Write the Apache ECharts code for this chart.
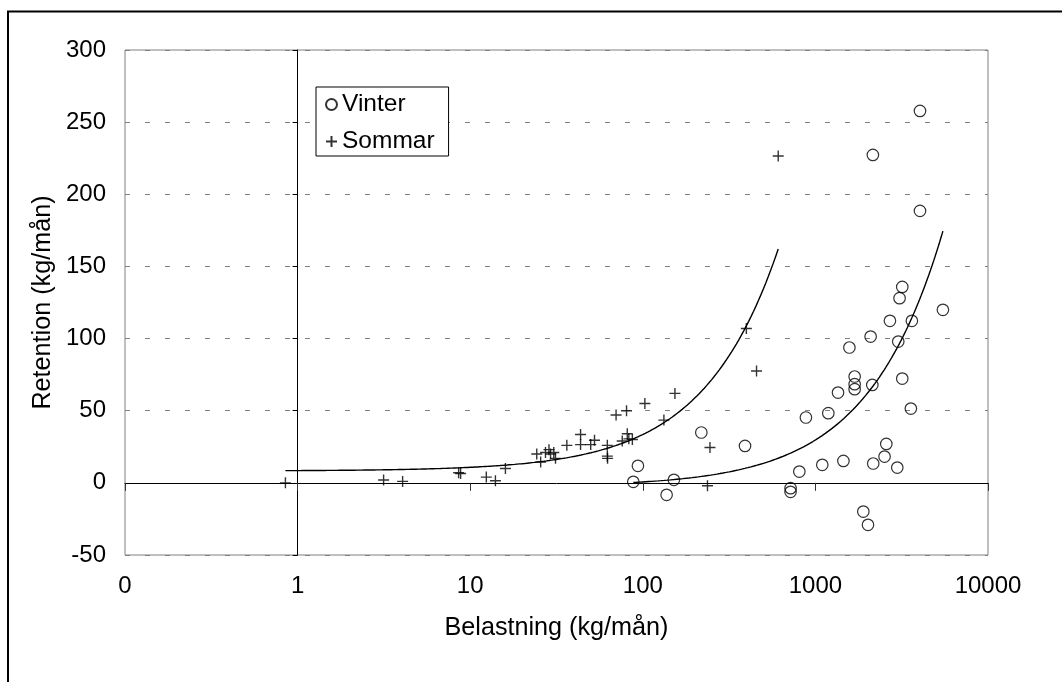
<!DOCTYPE html>
<html>
<head>
<meta charset="utf-8">
<script src="https://cdn.jsdelivr.net/npm/echarts@6/dist/echarts.min.js"></script>
<style>
html,body{margin:0;padding:0;background:#fff;}
#c{width:1062px;height:682px;}
</style>
</head>
<body>
<div id="c"></div>
<script>
// ---- data ----
const xTickLabels = ['0', '1', '10', '100', '1000', '10000'];
const xMin = 0.1, xMax = 10000;
const yMin = -50, yMax = 300, yStep = 50;

const vinterX = [88.1, 93.7, 137.4, 151.4, 218.3, 391, 718, 718, 807, 881, 1096, 1188, 1352, 1453, 1574,
  1688, 1688, 1688, 1895, 2017, 2089, 2136, 2163, 2516, 2575, 2703, 2981, 3020, 3073, 3186, 3186,
  3573, 3622, 5480, 4036, 4036, 2153];
const vinterY = [0.7, 11.8, -8.3, 2.1, 34.9, 25.6, -3.7, -6.2, 7.8, 45.3, 12.5, 48.3, 62.6, 15.2, 93.8,
  73.7, 68.4, 64.9, -19.9, -29.1, 101.4, 67.9, 13.4, 18.2, 27.0, 112.3, 10.6, 97.9, 128, 135.8, 72.3,
  51.5, 112.3, 119.9, 257.8, 188.5, 227.3];

const sommarX = [0.85, 3.15, 4.06, 8.57, 8.8, 12.4, 14.0, 16.0, 24.3, 25.6, 27.3, 28.6, 29.2, 30.5, 31.2,
  36.3, 43.6, 43.6, 49.9, 52.5, 62.3, 62.3, 62.5, 70, 80.5, 76, 81.3, 83, 87, 102.8, 132.5, 153.5,
  245, 237, 398, 456, 609];
const sommarY = [0, 2, 1, 7, 6.5, 4, 1.5, 10, 20, 14.5, 21, 23, 20, 21, 17,
  26, 33.5, 26.5, 26.5, 29.5, 26, 18.5, 17, 47, 50, 29, 34, 30.5, 30, 55, 43.5, 62,
  24.5, -2, 107, 77.5, 226.5];

// ---- layout constants ----
const G = {left: 125, top: 50, width: 863, height: 505};
const FONT = 'Liberation Sans, Arial, sans-serif';

// least-squares linear trend (as in the original spreadsheet chart)
function linFit(xs, ys) {
  const n = xs.length;
  let sx = 0, sy = 0, sxx = 0, sxy = 0;
  for (let i = 0; i < n; i++) { sx += xs[i]; sy += ys[i]; sxx += xs[i] * xs[i]; sxy += xs[i] * ys[i]; }
  const b = (n * sxy - sx * sy) / (n * sxx - sx * sx);
  const a = (sy - b * sx) / n;
  return {a, b};
}
function trendLine(xs, ys) {
  const f = linFit(xs, ys);
  const lo = Math.min(...xs), hi = Math.max(...xs);
  const pts = [];
  const N = 200;
  for (let i = 0; i <= N; i++) {
    const x = Math.pow(10, Math.log10(lo) + (Math.log10(hi) - Math.log10(lo)) * i / N);
    pts.push([x, f.a + f.b * x]);
  }
  return pts;
}
const zip = (xs, ys) => xs.map((x, i) => [x, ys[i]]);

const chart = echarts.init(document.getElementById('c'), null, {renderer: 'canvas'});

const xCrossOffset = -(G.height * (0 - yMin) / (yMax - yMin));                    // y = 0
const yCrossOffset = -(G.width * (Math.log10(1) - Math.log10(xMin)) / (Math.log10(xMax) - Math.log10(xMin))); // x = 1

chart.setOption({
  animation: false,
  backgroundColor: '#fff',
  textStyle: {fontFamily: FONT, color: '#000'},
  graphic: [{
    type: 'rect', silent: true, z: 100,
    shape: {x: 8, y: 11.5, width: 1200, height: 800},
    style: {fill: 'none', stroke: '#000', lineWidth: 2}
  }],
  grid: {left: G.left, top: G.top, width: G.width, height: G.height,
    show: true, borderColor: '#808080', borderWidth: 1, backgroundColor: '#fff'},
  legend: {
    data: ['Vinter', 'Sommar'],
    orient: 'vertical', left: 316, top: 87,
    backgroundColor: '#fff', borderColor: '#000', borderWidth: 1,
    padding: [5, 14, 2, 9],
    itemWidth: 11, itemHeight: 11, itemGap: 12, itemTextGap: 6,
    textStyle: {fontFamily: FONT, fontSize: 24.5, color: '#000'}
  },
  xAxis: [{
    type: 'log', logBase: 10, min: xMin, max: xMax,
    position: 'bottom',
    name: 'Belastning (kg/mån)', nameLocation: 'middle', nameGap: 61,
    nameTextStyle: {fontFamily: FONT, fontSize: 25.2, color: '#000'},
    axisLine: {show: false}, axisTick: {show: false}, splitLine: {show: false}, minorTick: {show: false},
    axisLabel: {
      fontFamily: FONT, fontSize: 24, color: '#000', margin: 19,
      formatter: v => xTickLabels[Math.round(Math.log10(v)) + 1]
    }
  }, {
    type: 'value', min: Math.log10(xMin), max: Math.log10(xMax), interval: 1,
    position: 'bottom', offset: xCrossOffset,
    axisLine: {show: true, onZero: false, lineStyle: {color: '#000', width: 1}},
    axisTick: {show: true, length: 8, inside: false, lineStyle: {color: '#333', width: 1}},
    axisLabel: {show: false}, splitLine: {show: false}
  }],
  yAxis: [{
    type: 'value', min: yMin, max: yMax, interval: yStep,
    position: 'left',
    name: 'Retention (kg/mån)', nameLocation: 'middle', nameGap: 66,
    nameTextStyle: {fontFamily: FONT, fontSize: 25.2, color: '#000'},
    axisLine: {show: false}, axisTick: {show: false},
    axisLabel: {fontFamily: FONT, fontSize: 24, color: '#000', margin: 19},
    splitLine: {show: true, lineStyle: {color: '#808080', width: 1, type: [5, 15]}}
  }, {
    type: 'value', min: yMin, max: yMax, interval: yStep,
    position: 'left', offset: yCrossOffset,
    axisLine: {show: true, onZero: false, lineStyle: {color: '#000', width: 1}},
    axisTick: {show: true, length: 5, inside: false, lineStyle: {color: '#000', width: 1}},
    axisLabel: {show: false}, splitLine: {show: false}
  }],
  series: [{
    name: 'Vinter', type: 'scatter', xAxisIndex: 0, yAxisIndex: 0, z: 5,
    data: zip(vinterX, vinterY),
    symbol: 'circle', symbolSize: 11.5,
    itemStyle: {color: 'rgba(255,255,255,0)', borderColor: '#000', borderWidth: 1.2}
  }, {
    name: 'Sommar', type: 'scatter', xAxisIndex: 0, yAxisIndex: 0, z: 5,
    data: zip(sommarX, sommarY),
    symbol: 'path://M0,5L10,5M5,0L5,10', symbolSize: 11,
    itemStyle: {color: 'rgba(255,255,255,0)', borderColor: '#000', borderWidth: 1.4}
  }, {
    name: 'trendVinter', type: 'line', xAxisIndex: 0, yAxisIndex: 0, z: 4,
    data: trendLine(vinterX, vinterY), showSymbol: false, silent: true,
    lineStyle: {color: '#000', width: 1.4}
  }, {
    name: 'trendSommar', type: 'line', xAxisIndex: 0, yAxisIndex: 0, z: 4,
    data: trendLine(sommarX, sommarY), showSymbol: false, silent: true,
    lineStyle: {color: '#000', width: 1.4}
  }]
});
</script>
</body>
</html>
